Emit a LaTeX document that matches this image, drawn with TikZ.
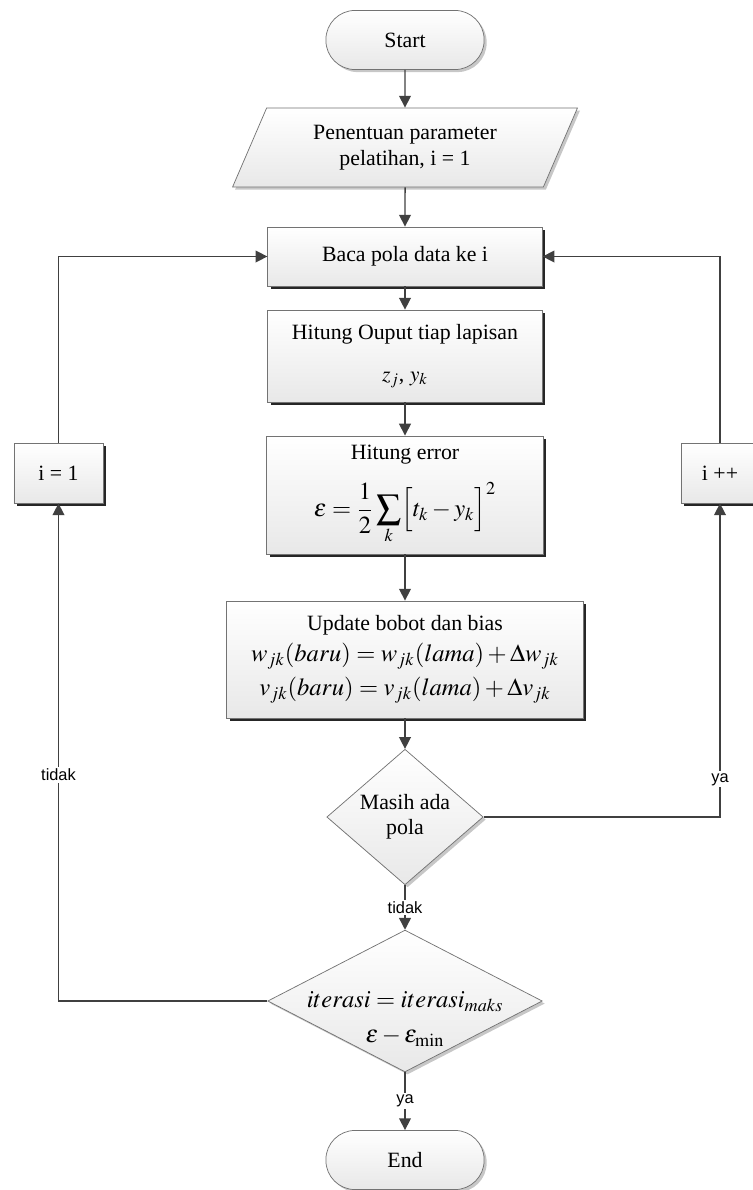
\documentclass[tikz,border=0pt]{standalone}
\usepackage{mathptmx}
\usepackage{fontspec}
\setmainfont{Liberation Serif}
\setsansfont{Liberation Sans}
\usetikzlibrary{shapes.geometric,shadows,arrows.meta}
\newcommand{\eqsize}{\fontsize{13.5}{16}\selectfont}
\tikzset{
  base/.style={draw=black!55, thin, top color=white, bottom color=black!9, align=center, font=\fontsize{12}{14}\selectfont, inner sep=0pt},
  boxshade/.style={drop shadow={shadow xshift=1.7pt, shadow yshift=-1.7pt, fill=black!85, opacity=1}},
  softshade/.style={drop shadow={shadow xshift=1.4pt, shadow yshift=-1.4pt, fill=black!22, opacity=1}},
  procbox/.style={base, boxshade, rectangle},
  termbox/.style={base, softshade, rectangle, rounded corners=16pt, minimum width=87pt, minimum height=32.5pt},
  iobox/.style={base, softshade, trapezium, trapezium left angle=63, trapezium right angle=117, trapezium stretches=true},
  decbox/.style={base, softshade, diamond},
  flow/.style={draw=black!75, line width=0.8pt, -{Triangle[length=6.5pt,width=6.5pt]}},
  lbl/.style={fill=white, font=\sffamily\fontsize{9}{11}\selectfont, inner sep=1pt}
}
\begin{document}
\begin{tikzpicture}[x=0.55pt, y=-0.55pt]
    \useasboundingbox (0,0) rectangle (752,1190);
    \node[termbox] (start) at (405,40) {Start};
    \node[iobox, minimum width=190pt, minimum height=43.5pt] (param) at (405,147.5) {Penentuan parameter\\pelatihan, i = 1};
    \node[procbox, minimum width=151pt, minimum height=32.5pt] (baca) at (405,256.5) {Baca pola data ke i};
    \node[procbox, minimum width=151pt, minimum height=50.6pt] (hitung) at (405,356) {Hitung Ouput tiap lapisan\\[9pt]$z_j$, $y_k$};
    \node[procbox, minimum width=152pt, minimum height=65pt] (galat) at (405,495) {Hitung error\\[9pt]{\eqsize$\displaystyle \varepsilon=\frac{1}{2}\sum_k\Bigl[t_k-y_k\Bigr]^2$}};
    \node[procbox, minimum width=196pt, minimum height=64.4pt] (bobot) at (405,659.5) {Update bobot dan bias\\[3pt]{\eqsize$w_{jk}(baru)=w_{jk}(lama)+\Delta w_{jk}$}\\[3pt]{\eqsize$v_{jk}(baru)=v_{jk}(lama)+\Delta v_{jk}$}};
    \node[decbox, minimum width=86pt, minimum height=65pt] (pola) at (405,817) {Masih ada\\pola};
    \node[decbox, minimum width=151pt, minimum height=78pt] (iter) at (405,1001) {};
    \node[align=center, font=\eqsize] (itertxt) at (405,1019) {$iterasi=iterasi_{maks}$\\[3pt]$\varepsilon-\varepsilon_{\min}$};
    \node[termbox] (end) at (405,1160) {End};
    \node[procbox, minimum width=49pt, minimum height=33pt] (ione) at (58.5,473) {i = 1};
    \node[procbox, minimum width=43pt, minimum height=33pt] (iplus) at (720,473) {i ++};
    \draw[flow] (start) -- (param);
    \draw[flow] (param) -- (baca);
    \draw[flow] (baca) -- (hitung);
    \draw[flow] (hitung) -- (galat);
    \draw[flow] (galat) -- (bobot);
    \draw[flow] (bobot) -- (pola);
    \draw[flow] (pola) -- node[lbl] {tidak} (iter);
    \draw[flow] (iter) -- node[lbl] {ya} (end);
    \draw[flow] (pola.east) -| node[lbl, pos=0.56] {ya} (iplus.south);
    \draw[flow] (iter.west) -| node[lbl, pos=0.727] {tidak} (ione.south);
    \draw[flow] (iplus.north) |- (baca.east);
    \draw[flow] (ione.north) |- (baca.west);
\end{tikzpicture}
\end{document}
